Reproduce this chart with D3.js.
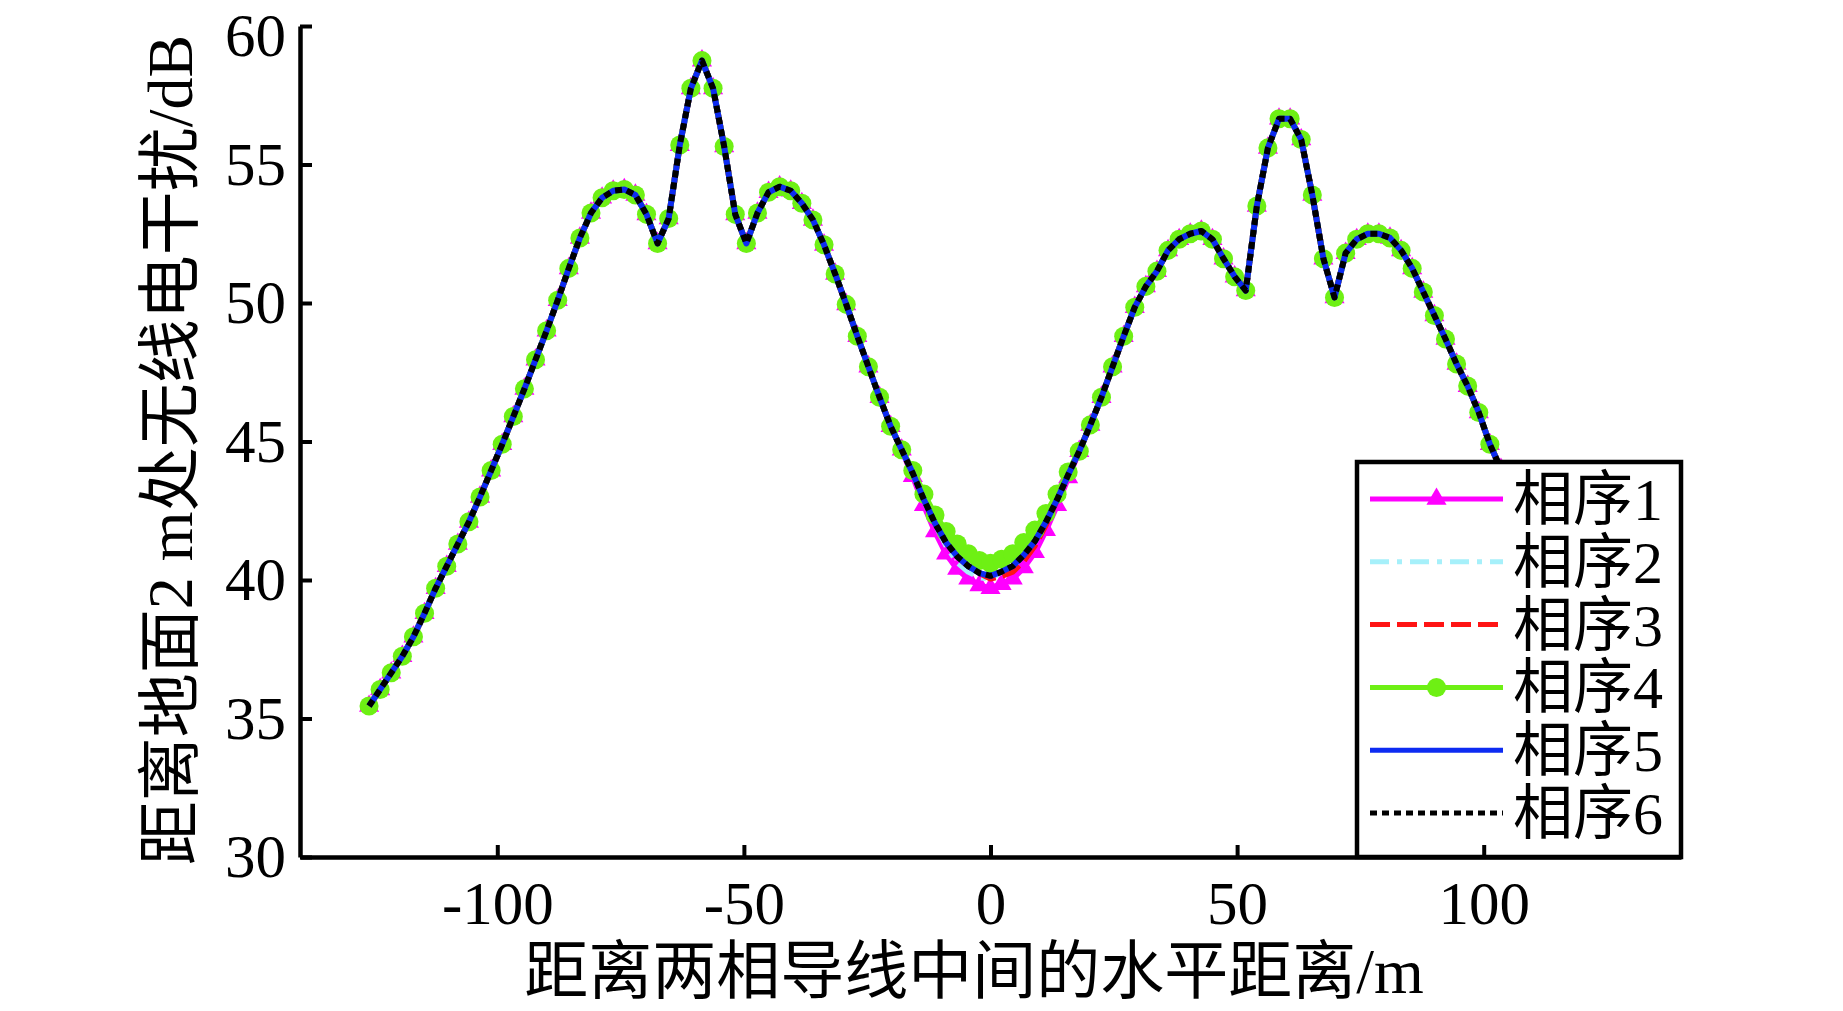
<!DOCTYPE html>
<html lang="zh">
<head>
<meta charset="utf-8">
<script src="https://cdn.jsdelivr.net/npm/d3@7"></script>
<style>
html,body{margin:0;padding:0;background:#fff;}
svg{display:block;}
</style>
</head>
<body>
<svg id="chart" width="1843" height="1011"></svg>
<script>
// ---------- data ----------
const distances = [
 -126, -123.75, -121.5, -119.25, -117, -114.75, -112.5, -110.25, -108, -105.75,
 -103.5, -101.25, -99, -96.75, -94.5, -92.25, -90, -87.75, -85.5, -83.25,
 -81, -78.75, -76.5, -74.25, -72, -69.75, -67.5, -65.25, -63, -60.75,
 -58.5, -56.25, -54, -51.75, -49.5, -47.25, -45, -42.75, -40.5, -38.25,
 -36, -33.75, -31.5, -29.25, -27, -24.75, -22.5, -20.25, -18, -15.75,
 -13.5, -11.25, -9, -6.75, -4.5, -2.25, 0, 2.25, 4.5, 6.75,
 9, 11.25, 13.5, 15.75, 18, 20.25, 22.5, 24.75, 27, 29.25,
 31.5, 33.75, 36, 38.25, 40.5, 42.75, 45, 47.25, 49.5, 51.75,
 54, 56.25, 58.5, 60.75, 63, 65.25, 67.5, 69.75, 72, 74.25,
 76.5, 78.75, 81, 83.25, 85.5, 87.75, 90, 92.25, 94.5, 96.75,
 99, 101.25, 103.5, 105.75, 108, 110.25, 112.5, 114.75, 117, 119.25,
 121.5, 123.75, 126
];

const phase1 = [
 35.45, 36.05, 36.65, 37.25, 37.95, 38.8, 39.7, 40.5, 41.3, 42.1,
 43.0, 43.95, 44.9, 45.9, 46.9, 47.95, 49.0, 50.1, 51.25, 52.35,
 53.25, 53.8, 54.05, 54.1, 53.9, 53.2, 52.15, 53.05, 55.7, 57.75,
 58.75, 57.75, 55.65, 53.2, 52.15, 53.25, 54.0, 54.2, 54.05, 53.6,
 53.0, 52.1, 51.05, 49.95, 48.8, 47.7, 46.6, 45.55, 44.7, 43.75,
 42.7, 41.75, 40.95, 40.4, 40.05, 39.8, 39.7, 39.85, 40.05, 40.45,
 41.0, 41.8, 42.7, 43.7, 44.65, 45.6, 46.6, 47.7, 48.8, 49.85,
 50.6, 51.15, 51.9, 52.3, 52.5, 52.6, 52.3, 51.6, 50.95, 50.45,
 53.5, 55.6, 56.65, 56.65, 55.9, 53.9, 51.6, 50.2, 51.8, 52.3,
 52.5, 52.5, 52.35, 51.9, 51.25, 50.4, 49.55, 48.7, 47.8, 47.0,
 46.05, 44.9, 44.0, 43.1, 42.2, 41.4, 40.6, 39.8, 39.0, 38.3,
 37.6, 36.9, 36.3
];

const phase2 = [
 35.45, 36.05, 36.65, 37.25, 37.95, 38.8, 39.7, 40.5, 41.3, 42.1,
 43.0, 43.95, 44.9, 45.9, 46.9, 47.95, 49.0, 50.1, 51.25, 52.35,
 53.25, 53.8, 54.05, 54.1, 53.9, 53.2, 52.15, 53.05, 55.7, 57.75,
 58.75, 57.75, 55.65, 53.2, 52.15, 53.25, 54.0, 54.2, 54.05, 53.6,
 53.0, 52.1, 51.05, 49.95, 48.8, 47.7, 46.6, 45.55, 44.7, 43.85,
 42.9, 42.05, 41.25, 40.65, 40.3, 40.1, 40.05, 40.3, 40.5, 40.9,
 41.4, 42.1, 42.9, 43.8, 44.65, 45.6, 46.6, 47.7, 48.8, 49.85,
 50.6, 51.15, 51.9, 52.3, 52.5, 52.6, 52.3, 51.6, 50.95, 50.45,
 53.5, 55.6, 56.65, 56.65, 55.9, 53.9, 51.6, 50.2, 51.8, 52.3,
 52.5, 52.5, 52.35, 51.9, 51.25, 50.4, 49.55, 48.7, 47.8, 47.0,
 46.05, 44.9, 44.0, 43.1, 42.2, 41.4, 40.6, 39.8, 39.0, 38.3,
 37.6, 36.9, 36.3
];

const phase3 = [
 35.45, 36.05, 36.65, 37.25, 37.95, 38.8, 39.7, 40.5, 41.3, 42.1,
 43.0, 43.95, 44.9, 45.9, 46.9, 47.95, 49.0, 50.1, 51.25, 52.35,
 53.25, 53.8, 54.05, 54.1, 53.9, 53.2, 52.15, 53.05, 55.7, 57.75,
 58.75, 57.75, 55.65, 53.2, 52.15, 53.25, 54.0, 54.2, 54.05, 53.6,
 53.0, 52.1, 51.05, 49.95, 48.8, 47.7, 46.6, 45.55, 44.7, 43.85,
 42.9, 42.05, 41.35, 40.85, 40.5, 40.25, 40.05, 40.15, 40.3, 40.7,
 41.25, 42.0, 42.9, 43.8, 44.65, 45.6, 46.6, 47.7, 48.8, 49.85,
 50.6, 51.15, 51.9, 52.3, 52.5, 52.6, 52.3, 51.6, 50.95, 50.45,
 53.5, 55.6, 56.65, 56.65, 55.9, 53.9, 51.6, 50.2, 51.8, 52.3,
 52.5, 52.5, 52.35, 51.9, 51.25, 50.4, 49.55, 48.7, 47.8, 47.0,
 46.05, 44.9, 44.0, 43.1, 42.2, 41.4, 40.6, 39.8, 39.0, 38.3,
 37.6, 36.9, 36.3
];

const phase4 = [
 35.45, 36.05, 36.65, 37.25, 37.95, 38.8, 39.7, 40.5, 41.3, 42.1,
 43.0, 43.95, 44.9, 45.9, 46.9, 47.95, 49.0, 50.1, 51.25, 52.35,
 53.25, 53.8, 54.05, 54.1, 53.9, 53.2, 52.15, 53.05, 55.7, 57.75,
 58.75, 57.75, 55.65, 53.2, 52.15, 53.25, 54.0, 54.2, 54.05, 53.6,
 53.0, 52.1, 51.05, 49.95, 48.8, 47.7, 46.6, 45.55, 44.7, 43.95,
 43.1, 42.35, 41.75, 41.3, 40.95, 40.7, 40.6, 40.75, 40.95, 41.35,
 41.8, 42.4, 43.1, 43.9, 44.65, 45.6, 46.6, 47.7, 48.8, 49.85,
 50.6, 51.15, 51.9, 52.3, 52.5, 52.6, 52.3, 51.6, 50.95, 50.45,
 53.5, 55.6, 56.65, 56.65, 55.9, 53.9, 51.6, 50.2, 51.8, 52.3,
 52.5, 52.5, 52.35, 51.9, 51.25, 50.4, 49.55, 48.7, 47.8, 47.0,
 46.05, 44.9, 44.0, 43.1, 42.2, 41.4, 40.6, 39.8, 39.0, 38.3,
 37.6, 36.9, 36.3
];

const phase5 = [
 35.45, 36.05, 36.65, 37.25, 37.95, 38.8, 39.7, 40.5, 41.3, 42.1,
 43.0, 43.95, 44.9, 45.9, 46.9, 47.95, 49.0, 50.1, 51.25, 52.35,
 53.25, 53.8, 54.05, 54.1, 53.9, 53.2, 52.15, 53.05, 55.7, 57.75,
 58.75, 57.75, 55.65, 53.2, 52.15, 53.25, 54.0, 54.2, 54.05, 53.6,
 53.0, 52.1, 51.05, 49.95, 48.8, 47.7, 46.6, 45.55, 44.7, 43.85,
 42.9, 42.05, 41.35, 40.85, 40.5, 40.25, 40.15, 40.3, 40.5, 40.9,
 41.4, 42.1, 42.9, 43.8, 44.65, 45.6, 46.6, 47.7, 48.8, 49.85,
 50.6, 51.15, 51.9, 52.3, 52.5, 52.6, 52.3, 51.6, 50.95, 50.45,
 53.5, 55.6, 56.65, 56.65, 55.9, 53.9, 51.6, 50.2, 51.8, 52.3,
 52.5, 52.5, 52.35, 51.9, 51.25, 50.4, 49.55, 48.7, 47.8, 47.0,
 46.05, 44.9, 44.0, 43.1, 42.2, 41.4, 40.6, 39.8, 39.0, 38.3,
 37.6, 36.9, 36.3
];

const phase6 = [
 35.45, 36.05, 36.65, 37.25, 37.95, 38.8, 39.7, 40.5, 41.3, 42.1,
 43.0, 43.95, 44.9, 45.9, 46.9, 47.95, 49.0, 50.1, 51.25, 52.35,
 53.25, 53.8, 54.05, 54.1, 53.9, 53.2, 52.15, 53.05, 55.7, 57.75,
 58.75, 57.75, 55.65, 53.2, 52.15, 53.25, 54.0, 54.2, 54.05, 53.6,
 53.0, 52.1, 51.05, 49.95, 48.8, 47.7, 46.6, 45.55, 44.7, 43.85,
 42.9, 42.05, 41.35, 40.85, 40.5, 40.25, 40.15, 40.3, 40.5, 40.9,
 41.4, 42.1, 42.9, 43.8, 44.65, 45.6, 46.6, 47.7, 48.8, 49.85,
 50.6, 51.15, 51.9, 52.3, 52.5, 52.6, 52.3, 51.6, 50.95, 50.45,
 53.5, 55.6, 56.65, 56.65, 55.9, 53.9, 51.6, 50.2, 51.8, 52.3,
 52.5, 52.5, 52.35, 51.9, 51.25, 50.4, 49.55, 48.7, 47.8, 47.0,
 46.05, 44.9, 44.0, 43.1, 42.2, 41.4, 40.6, 39.8, 39.0, 38.3,
 37.6, 36.9, 36.3
];

const seriesNames = ["相序1", "相序2", "相序3", "相序4", "相序5", "相序6"];
const xTickValues = [-100, -50, 0, 50, 100];
const yTickValues = [30, 35, 40, 45, 50, 55, 60];
const xDomain = [-140, 140];
const yDomain = [30, 60];
const xTitle = "距离两相导线中间的水平距离/m";
const yTitle = "距离地面2 m处无线电干扰/dB";

// ---------- styles ----------
const allSeries = [phase1, phase2, phase3, phase4, phase5, phase6];
const styles = [
  {color: "#ff00ff", dash: null,        marker: "triangle"},
  {color: "#a6f0fa", dash: "19,8,5,8",  marker: null},
  {color: "#ff1414", dash: "20,7",      marker: null},
  {color: "#6ef014", dash: null,        marker: "circle"},
  {color: "#0d2bf2", dash: null,        marker: null},
  {color: "#000000", dash: "7,5",       marker: null}
];
const FONT = "'Liberation Serif','Times New Roman','Noto Sans CJK SC',serif";
const LW = 6;

const svg = d3.select("#chart");
svg.append("rect").attr("width", 1843).attr("height", 1011).attr("fill", "#fff");

const x = d3.scaleLinear().domain(xDomain).range([300, 1681]);
const y = d3.scaleLinear().domain(yDomain).range([857, 26]);

const line = d3.line()
  .x((d, i) => x(distances[i]))
  .y(d => y(d));

const triSym = d3.symbol().type(d3.symbolTriangle).size(175);
const cirSym = d3.symbol().type(d3.symbolCircle).size(285);

const plot = svg.append("g");
allSeries.forEach((vals, si) => {
  const st = styles[si];
  const g = plot.append("g");
  g.append("path")
    .attr("d", line(vals))
    .attr("fill", "none")
    .attr("stroke", st.color)
    .attr("stroke-width", LW)
    .attr("stroke-linejoin", "round")
    .attr("stroke-dasharray", st.dash);
  if (st.marker) {
    g.selectAll("path.m")
      .data(vals)
      .join("path")
      .attr("class", "m")
      .attr("d", st.marker === "triangle" ? triSym() : cirSym())
      .attr("transform", (d, i) => `translate(${x(distances[i])},${y(d)})`)
      .attr("fill", st.color);
  }
});

// ---------- legend ----------
const lg = svg.append("g");
const lx0 = 1357, ly0 = 462, lw = 324, lh = 395;
lg.append("rect")
  .attr("x", lx0).attr("y", ly0).attr("width", lw).attr("height", lh)
  .attr("fill", "#fff").attr("stroke", "#000").attr("stroke-width", 4.5);
seriesNames.forEach((name, i) => {
  const st = styles[i];
  const cy = 499 + i * 62.8;
  lg.append("line")
    .attr("x1", 1370).attr("x2", 1503).attr("y1", cy).attr("y2", cy)
    .attr("stroke", st.color).attr("stroke-width", 5)
    .attr("stroke-dasharray", st.dash);
  if (st.marker) {
    lg.append("path")
      .attr("d", st.marker === "triangle" ? triSym() : cirSym())
      .attr("transform", `translate(1436.5,${cy})`)
      .attr("fill", st.color);
  }
  lg.append("text")
    .attr("x", 1513).attr("y", cy + 21)
    .attr("font-family", FONT).attr("font-size", 60)
    .attr("fill", "#000")
    .text(name);
});

// ---------- axes ----------
const yAxis = svg.append("g")
  .attr("transform", `translate(${x(xDomain[0])},0)`)
  .call(d3.axisLeft(y).tickValues(yTickValues).tickSizeInner(-12).tickSizeOuter(0)
        .tickPadding(14).tickFormat(d => String(d)));
const xAxis = svg.append("g")
  .attr("transform", `translate(0,${y(yDomain[0])})`)
  .call(d3.axisBottom(x).tickValues(xTickValues).tickSizeInner(-12).tickSizeOuter(0)
        .tickPadding(24).tickFormat(d => String(d)));
[yAxis, xAxis].forEach(a => {
  a.attr("font-family", FONT).attr("font-size", 61);
  a.select(".domain").attr("stroke", "#000").attr("stroke-width", 4.5);
  a.selectAll(".tick line").attr("stroke", "#000").attr("stroke-width", 4);
  a.selectAll(".tick text").attr("fill", "#000");
});
// top label sits a little lower, as in the reference
yAxis.selectAll(".tick text")
  .filter(d => d === yDomain[1])
  .attr("dy", "0.48em");

// ---------- titles ----------
svg.append("text")
  .attr("x", 974).attr("y", 993)
  .attr("text-anchor", "middle")
  .attr("font-family", FONT).attr("font-size", 64).attr("fill", "#000")
  .text(xTitle);
svg.append("text")
  .attr("transform", "translate(192,450) rotate(-90)")
  .attr("text-anchor", "middle")
  .attr("font-family", FONT).attr("font-size", 64).attr("fill", "#000")
  .text(yTitle);
</script>
</body>
</html>
